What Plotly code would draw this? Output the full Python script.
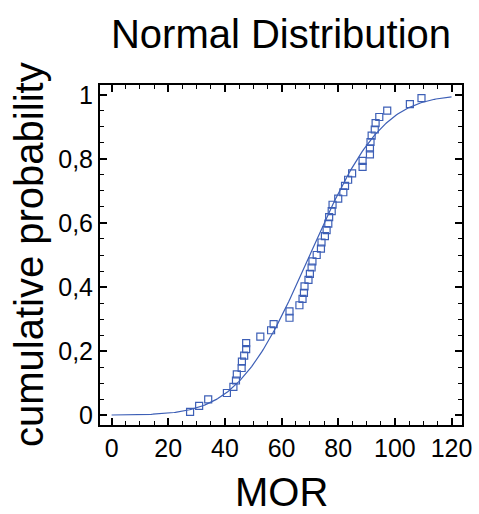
import math
import numpy as np
import plotly.graph_objects as go

mor = [27.7, 30.9, 34.1, 40.7, 43.0, 43.9, 44.2, 45.9, 46.0, 46.8,
       47.5, 47.5, 52.5, 56.3, 57.2, 62.8, 62.8, 66.3, 67.4, 67.9,
       68.1, 69.5, 70.0, 70.6, 70.9, 72.4, 73.9, 74.1, 75.3, 75.9,
       76.5, 76.8, 77.7, 78.0, 80.0, 81.8, 82.4, 83.5, 84.9, 88.6,
       88.6, 91.2, 91.2, 91.4, 91.8, 92.9, 93.2, 94.5, 97.3, 105.3,
       109.4]
cum_prob = [0.010, 0.029, 0.049, 0.069, 0.088, 0.108, 0.127, 0.147, 0.167, 0.186,
            0.206, 0.225, 0.245, 0.265, 0.284, 0.304, 0.324, 0.343, 0.363, 0.382,
            0.402, 0.422, 0.441, 0.461, 0.480, 0.500, 0.520, 0.539, 0.559, 0.578,
            0.598, 0.618, 0.637, 0.657, 0.676, 0.696, 0.716, 0.735, 0.755, 0.775,
            0.794, 0.814, 0.833, 0.853, 0.873, 0.892, 0.912, 0.931, 0.951, 0.971,
            0.990]

x_tickvals = [0, 20, 40, 60, 80, 100, 120]
x_ticktext = ["0", "20", "40", "60", "80", "100", "120"]
y_tickvals = [0, 0.2, 0.4, 0.6, 0.8, 1.0]
y_ticktext = ["0", "0,2", "0,4", "0,6", "0,8", "1"]

# Fitted normal distribution (from the sample)
mu = float(np.mean(mor))
sigma = float(np.std(mor, ddof=1))
xc = np.linspace(0, 120, 241)
yc = [0.5 * (1 + math.erf((v - mu) / (sigma * math.sqrt(2)))) for v in xc]

W, H = 479, 514
L, R, T, B = 100, 17, 85, 89

blue = "#3d5fb6"
fig = go.Figure()
fig.add_trace(go.Scatter(x=xc, y=yc, mode="lines",
                         line=dict(color=blue, width=1.2), showlegend=False))
fig.add_trace(go.Scatter(x=mor, y=cum_prob, mode="markers",
                         marker=dict(symbol="square-open", size=7, color=blue,
                                     line=dict(width=1.2, color=blue)),
                         showlegend=False))

font = "Liberation Sans, Arial, sans-serif"
axis_common = dict(showline=True, linecolor="black", linewidth=2, mirror="allticks",
                   ticks="inside", ticklen=7, tickwidth=1.5, tickcolor="black",
                   showgrid=False, zeroline=False, automargin=False,
                   tickfont=dict(family=font, size=25, color="black"))

def px_to_paper_x(px):
    return (px - L) / (W - L - R)

def px_to_paper_y(py):
    return (H - B - py) / (H - T - B)

fig.update_layout(
    width=W, height=H,
    margin=dict(l=L, r=R, t=T, b=B, autoexpand=False),
    plot_bgcolor="white", paper_bgcolor="white",
    separators=",.",
    title=dict(text="Normal Distribution", x=0.5, xref="paper", xanchor="center",
               y=1 - 34 / H, yref="container", yanchor="middle",
               font=dict(family=font, size=40, color="black")),
    xaxis=dict(range=[-4.1, 123.7], tickvals=x_tickvals, ticktext=x_ticktext,
               minor=dict(ticks="inside", dtick=5, ticklen=4, tickwidth=1, tickcolor="black"),
               **axis_common),
    yaxis=dict(range=[-0.031, 1.031], tickvals=y_tickvals, ticktext=y_ticktext,
               minor=dict(ticks="inside", dtick=0.05, ticklen=4, tickwidth=1, tickcolor="black"),
               **axis_common),
    annotations=[
        dict(text="MOR", xref="paper", yref="paper", x=0.5, y=px_to_paper_y(492),
             xanchor="center", yanchor="middle", showarrow=False,
             font=dict(family=font, size=40, color="black")),
        dict(text="cumulative probability", xref="paper", yref="paper",
             x=px_to_paper_x(29), y=px_to_paper_y(255), textangle=-90,
             xanchor="center", yanchor="middle", showarrow=False,
             font=dict(family=font, size=40, color="black")),
    ],
)
fig.write_html("out.html", config={"displayModeBar": False},
               post_script="document.body.style.margin='0';document.body.style.overflow='hidden';")
